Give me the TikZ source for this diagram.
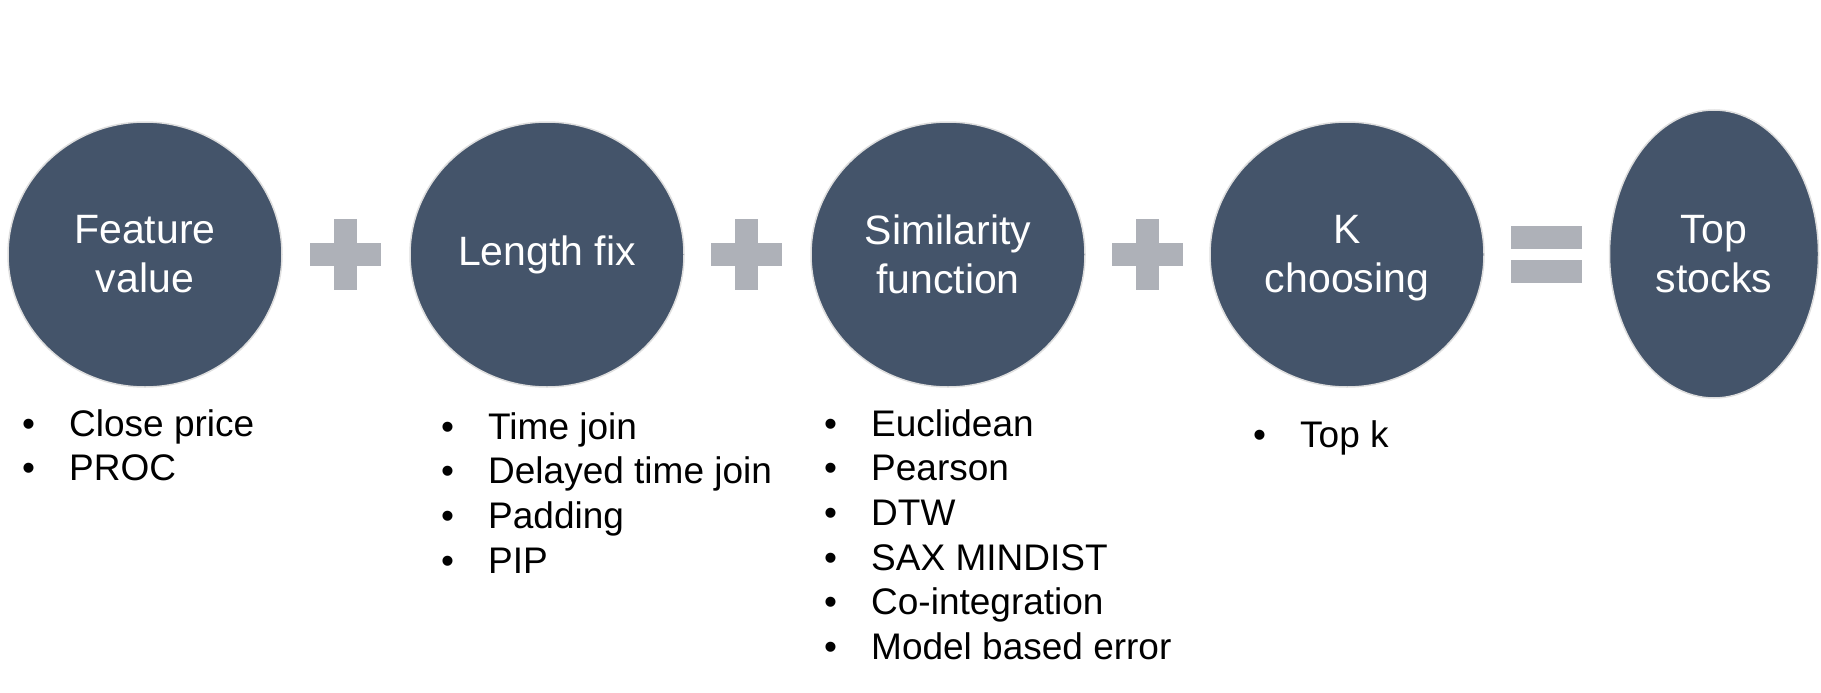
\documentclass[tikz,border=0pt]{standalone}
\usepackage{fontspec}
\setmainfont{Liberation Sans}
\usetikzlibrary{shapes.geometric}
\definecolor{blobfill}{HTML}{44546A}
\definecolor{bloboutline}{RGB}{222,222,222}
\definecolor{opfill}{RGB}{174,177,184}
\tikzset{
  blob/.style={ellipse, fill=blobfill, draw=bloboutline, line width=1.5pt, inner sep=0pt,
    text=white, align=center, font=\fontsize{41}{49}\selectfont},
  listtext/.style={anchor=base west, inner sep=0pt, align=left, text=black,
    font=\fontsize{37}{44.7}\selectfont},
  opsign/.style={fill=opfill}
}
\newcommand{\bitem}[1]{\makebox[47pt][l]{\textbullet}#1}
\begin{document}
\begin{tikzpicture}[x=1pt,y=-1pt]
\useasboundingbox (0,0) rectangle (1821,693);
% circles
\node[blob, minimum width=274pt, minimum height=265pt] (fv) at (145,254.5) {Feature\\value};
\node[blob, minimum width=274pt, minimum height=265pt] (lf) at (547,254.5) {Length fix};
\node[blob, minimum width=274pt, minimum height=265pt] (sf) at (948,254.5) {Similarity\\function};
\node[blob, minimum width=274pt, minimum height=265pt] (kc) at (1347,254.5) {};
\node[blob, fill=none, draw=none] (kct) at (1347,258.5) {K\\choosing};
\node[blob, minimum width=209pt, minimum height=288pt] (ts) at (1714,254) {Top\\stocks};
% plus signs
\foreach \cx in {345.5,746,1147}{
  \fill[opsign] (\cx-35.5,243) rectangle (\cx+35.5,265.5);
  \fill[opsign] (\cx-11.5,219) rectangle (\cx+11.5,290);
}
% equals sign
\fill[opsign] (1511,226) rectangle (1582,248.7);
\fill[opsign] (1511,260.3) rectangle (1582,283);
% lists (anchor at the baseline of the last line)
\node[listtext] (l1) at (22,480.7) {\bitem{Close price}\\\bitem{PROC}};
\node[listtext] (l2) at (441,573.1) {\bitem{Time join}\\\bitem{Delayed time join}\\\bitem{Padding}\\\bitem{PIP}};
\node[listtext] (l3) at (824,659.5) {\bitem{Euclidean}\\\bitem{Pearson}\\\bitem{DTW}\\\bitem{SAX MINDIST}\\\bitem{Co-integration}\\\bitem{Model based error}};
\node[listtext] (l4) at (1253,447) {\bitem{Top k}};
\end{tikzpicture}
\end{document}
